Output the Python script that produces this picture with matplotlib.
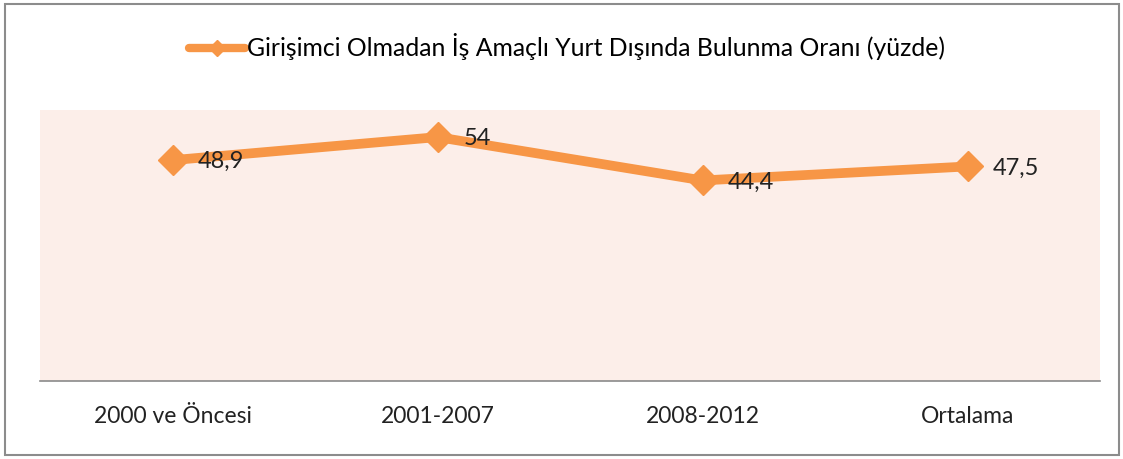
import matplotlib.pyplot as plt
from matplotlib.lines import Line2D
from matplotlib.patches import Rectangle

plt.rcParams['font.family'] = ['Lato', 'DejaVu Sans']

# data
categories = ['2000 ve Öncesi', '2001-2007', '2008-2012', 'Ortalama']
rates = [48.9, 54, 44.4, 47.5]
series_name = 'Girişimci Olmadan İş Amaçlı Yurt Dışında Bulunma Oranı (yüzde)'

orange = '#F79646'

fig = plt.figure(figsize=(11.23, 4.59), dpi=100)
W, H = 1123, 459
ax = fig.add_axes([40 / W, 1 - 381 / H, (1100 - 40) / W, (381 - 110) / H])
ax.set_facecolor('#FCEEE9')

x = list(range(len(categories)))
ax.plot(x, rates, color=orange, linewidth=7, marker='D', markersize=15,
        solid_capstyle='round', solid_joinstyle='round', zorder=3)

for xi, v in zip(x, rates):
    lbl = f'{v:g}'.replace('.', ',')
    ax.annotate(lbl, (xi, v), xytext=(18.5, -1), textcoords='offset points',
                ha='left', va='center', fontsize=17, color='#222222', zorder=4)

ax.set_xlim(-0.5, len(categories) - 0.5)
ax.set_ylim(0, 60)
ax.set_xticks(x)
ax.set_xticklabels(categories, fontsize=16.5, color='#222222')
ax.set_yticks([])
ax.tick_params(axis='x', length=0, pad=18)
for s in ['top', 'left', 'right']:
    ax.spines[s].set_visible(False)
ax.spines['bottom'].set_color('#8a8a8a')
ax.spines['bottom'].set_linewidth(1.2)

handle = Line2D([], [], color=orange, linewidth=6, marker='D', markersize=8,
                solid_capstyle='round')
fig.legend([handle], [series_name], loc='center', bbox_to_anchor=(567 / W, 1 - 47 / H),
           frameon=False, fontsize=17.8, handlelength=2.3, handletextpad=0.08)

# outer chart border
fig.patches.append(Rectangle((5 / W, 1 - 455 / H), (1119 - 5) / W, (455 - 4) / H,
                             transform=fig.transFigure, fill=False,
                             edgecolor='#8c8c8c', linewidth=1.5))

fig.savefig('out.png', dpi=100)
